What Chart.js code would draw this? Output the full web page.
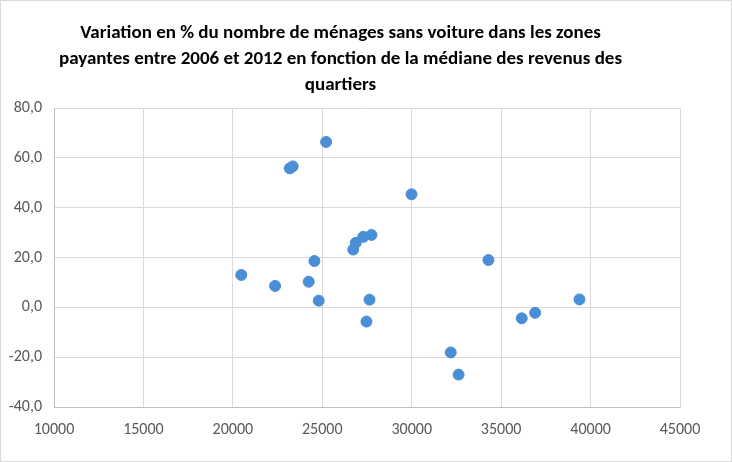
<!DOCTYPE html>
<html>
<head>
<meta charset="utf-8">
<script src="https://cdn.jsdelivr.net/npm/chart.js@4"></script>
<style>
  html, body { margin: 0; padding: 0; background: #fff; }
  #wrap { position: relative; width: 730px; height: 460px; border: 1px solid #d9d9d9; }
</style>
</head>
<body>
<div id="wrap"><canvas id="chart" width="730" height="460"></canvas></div>
<script>
// median income of the district (x) vs % change in car-free households (y)
const incomes = [25215, 23180, 23345, 29990, 27750, 27290, 26870, 26730, 24560, 20470,
                 22360, 24240, 24800, 27640, 27470, 34290, 39380, 36900, 36150, 32180, 32620];
const variations = [66.4, 55.8, 56.6, 45.4, 29.1, 28.3, 25.9, 23.2, 18.6, 13.0,
                    8.6, 10.3, 2.7, 3.1, -5.7, 19.0, 3.2, -2.2, -4.4, -18.1, -27.0];

const titleLines = [
  "Variation en % du nombre de ménages sans voiture dans les zones",
  "payantes entre 2006 et 2012 en fonction de la médiane des revenus des",
  "quartiers"
];

const xMin = 10000, xMax = 45000, xStep = 5000;
const yMin = -40, yMax = 80, yStep = 20;

const points = incomes.map((x, i) => ({ x: x, y: variations[i] }));

const gridColor = "#d9d9d9";
const tickColor = "#595959";
const font = "Calibri, Carlito, 'Open Sans', sans-serif";

new Chart(document.getElementById("chart"), {
  type: "scatter",
  data: {
    datasets: [{
      data: points,
      backgroundColor: "#4a8fd6",
      borderColor: "#4a8fd6",
      pointRadius: 5.5,
      pointHoverRadius: 5.5,
    }]
  },
  options: {
    responsive: false,
    animation: false,
    layout: { padding: { left: 0, right: 51, top: 0, bottom: 0 } },
    plugins: {
      legend: { display: false },
      tooltip: { enabled: false },
      title: {
        display: true,
        text: titleLines,
        color: "#000",
        font: { family: font, size: 19, weight: "bold", lineHeight: 1.37 },
        padding: { top: 19, bottom: 10 },
      }
    },
    scales: {
      x: {
        type: "linear",
        min: xMin, max: xMax,
        grid: { color: gridColor, lineWidth: 1, drawTicks: false },
        border: { color: "#bfbfbf" },
        ticks: {
          stepSize: xStep,
          color: tickColor,
          padding: 13,
          font: { family: font, size: 16 },
          callback: (v) => String(v),
        },
        afterFit: (s) => { s.height = 54; }
      },
      y: {
        min: yMin, max: yMax,
        grid: { color: gridColor, lineWidth: 1, drawTicks: false },
        border: { color: "#bfbfbf" },
        ticks: {
          stepSize: yStep,
          color: tickColor,
          padding: 12,
          font: { family: font, size: 16 },
          callback: (v) => v.toFixed(1).replace(".", ","),
        },
        afterFit: (s) => { s.width = 53; }
      }
    }
  }
});
</script>
</body>
</html>
